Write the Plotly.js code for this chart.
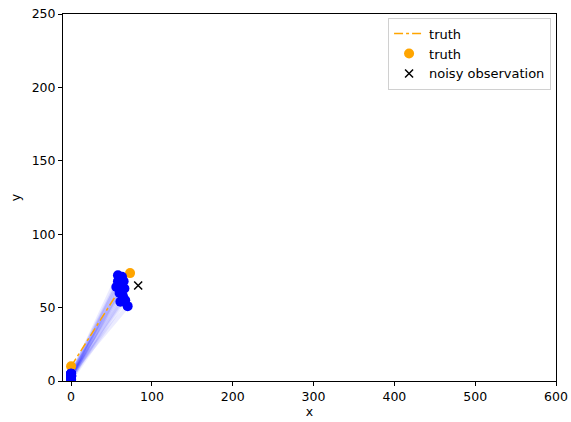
<!DOCTYPE html>
<html><head><meta charset="utf-8">
<script src="https://cdn.plot.ly/plotly-3.0.1.min.js"></script>
<style>html,body{margin:0;padding:0;background:#fff}#c{width:571px;height:422px}</style>
</head><body><div id="c"></div>
<script>
// truth trajectory
const truthX = [0, 73];
const truthY = [10, 73.5];
// noisy observation
const obsX = [83];
const obsY = [65];
// particles: start and end positions
const startX = [0, 0, 0, 0, 0, 0, 0, 0, 0, 0, 0, 0, 0, 0, 0];
const startY = [3, 5, 2, 4, 1, 3, 5, 2, 4, 1, 3, 5, 2, 4, 3];
const endX = [58, 63, 56, 60, 65, 62, 66, 64, 60, 67, 61, 70, 65, 58, 63];
const endY = [72, 71, 64, 66, 68, 62, 63, 58, 60, 55, 54, 51, 56, 68, 65];

const traces = [];
for (let i = 0; i < startX.length; i++) {
  traces.push({x: [startX[i], endX[i]], y: [startY[i], endY[i]], mode: 'lines',
    line: {color: 'rgba(0,0,255,0.08)', width: 4}, showlegend: false, hoverinfo: 'skip'});
}
traces.push({x: truthX, y: truthY, mode: 'lines', name: 'truth',
  line: {color: '#FFA500', width: 1.5, dash: 'dashdot'}});
traces.push({x: truthX, y: truthY, mode: 'markers', name: 'truth',
  marker: {color: '#FFA500', size: 10}});
traces.push({x: startX, y: startY, mode: 'markers', showlegend: false,
  marker: {color: '#0000FF', size: 10}});
traces.push({x: endX, y: endY, mode: 'markers', showlegend: false,
  marker: {color: '#0000FF', size: 10}});
traces.push({x: obsX, y: obsY, mode: 'markers', name: 'noisy observation',
  marker: {color: '#000', size: 8, symbol: 'x-thin', line: {width: 1.5, color: '#000'}}});

const axBase = {showgrid: false, zeroline: false, showline: true, mirror: true,
  linecolor: '#000', linewidth: 1, ticks: 'outside', ticklen: 4, tickcolor: '#000',
  tickfont: {family: 'DejaVu Sans', size: 12.5, color: '#000'}};

Plotly.newPlot('c', traces, {
  width: 571, height: 422,
  margin: {l: 63, r: 15, t: 14, b: 41},
  paper_bgcolor: '#fff', plot_bgcolor: '#fff',
  font: {family: 'DejaVu Sans', color: '#000'},
  xaxis: Object.assign({}, axBase, {range: [-10, 600], dtick: 100,
    title: {text: 'x', font: {size: 12.5}, standoff: 3}}),
  yaxis: Object.assign({}, axBase, {range: [0, 250], dtick: 50,
    title: {text: 'y', font: {size: 12.5}, standoff: 8}}),
  legend: {x: 0.99, y: 0.99, xanchor: 'right', yanchor: 'top',
    bordercolor: '#d0d0d0', borderwidth: 1, bgcolor: 'rgba(255,255,255,0.8)',
    font: {family: 'DejaVu Sans', size: 13}, tracegroupgap: 0}
}, {staticPlot: true});
</script></body></html>
